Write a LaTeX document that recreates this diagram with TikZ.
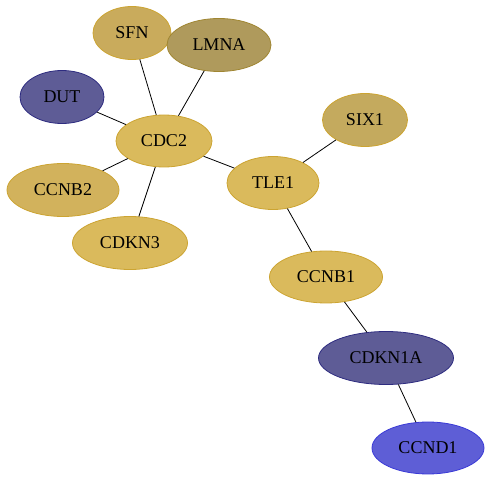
\documentclass[tikz,border=0pt]{standalone}
\usepackage{fontspec}
\setmainfont{Liberation Serif}
\usepackage{tikz}
\usetikzlibrary{positioning}
\usetikzlibrary{shapes.geometric}
\usepackage{xcolor}

\definecolor{goldA}{RGB}{218,186,92}
\definecolor{goldB}{RGB}{201,171,92}
\definecolor{goldC}{RGB}{175,154,92}
\definecolor{goldD}{RGB}{196,170,94}
\definecolor{goldE}{RGB}{210,178,92}
\definecolor{goldline}{RGB}{204,164,50}
\definecolor{oliveline}{RGB}{160,134,50}
\definecolor{slate}{RGB}{94,92,150}
\definecolor{slateline}{RGB}{46,44,128}
\definecolor{azure}{RGB}{94,94,214}
\definecolor{azureline}{RGB}{58,58,214}

\tikzset{
  prot/.style={ellipse, draw=goldline, fill=goldA, line width=0.8pt, inner sep=0pt,
               font=\fontsize{18}{20}\selectfont},
  link/.style={black, line width=0.8pt}
}

\begin{document}
\begin{tikzpicture}[x=1pt, y=-1pt]
	\useasboundingbox (0, 0) rectangle (491, 481);
	\node[prot, fill=goldB, minimum width=78pt, minimum height=53pt] (sfn) at (132, 33) {SFN};
	\node[prot, fill=goldC, draw=oliveline, minimum width=104pt, minimum height=53pt] (lmna) at (219, 45) {LMNA};
	\node[prot, fill=slate, draw=slateline, minimum width=84pt, minimum height=53pt] (dut) at (62, 97) {DUT};
	\node[prot, minimum width=96pt, minimum height=52pt] (cdc2) at (164, 141) {CDC2};
	\node[prot, fill=goldE, minimum width=112pt, minimum height=53pt] (ccnb2) at (63, 190) {CCNB2};
	\node[prot, minimum width=115pt, minimum height=53pt] (cdkn3) at (130, 243) {CDKN3};
	\node[prot, fill=goldD, minimum width=85pt, minimum height=53pt] (six1) at (365, 120) {SIX1};
	\node[prot, minimum width=92pt, minimum height=53pt] (tle1) at (273, 183) {TLE1};
	\node[prot, minimum width=113pt, minimum height=52pt] (ccnb1) at (326, 277) {CCNB1};
	\node[prot, fill=slate, draw=slateline, minimum width=135pt, minimum height=53pt] (cdkn1a) at (386, 358) {CDKN1A};
	\node[prot, fill=azure, draw=azureline, minimum width=112pt, minimum height=52pt] (ccnd1) at (428, 448) {CCND1};

	\draw[link] (cdc2) -- (sfn);
	\draw[link] (cdc2) -- (lmna);
	\draw[link] (cdc2) -- (dut);
	\draw[link] (cdc2) -- (ccnb2);
	\draw[link] (cdc2) -- (cdkn3);
	\draw[link] (cdc2) -- (tle1);
	\draw[link] (tle1) -- (six1);
	\draw[link] (tle1) -- (ccnb1);
	\draw[link] (ccnb1) -- (cdkn1a);
	\draw[link] (cdkn1a) -- (ccnd1);
\end{tikzpicture}
\end{document}
